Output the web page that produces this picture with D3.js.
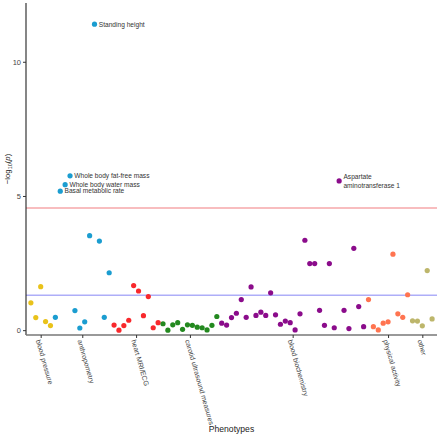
<!DOCTYPE html>
<html><head><meta charset="utf-8">
<script src="https://cdn.jsdelivr.net/npm/d3@7"></script>
<style>
body{margin:0;background:#fff}
svg{display:block;font-family:"Liberation Sans",Arial,Helvetica,sans-serif}
</style>
</head><body>
<svg id="chart" width="440" height="437"></svg>
<script>
// ---- data ----
const categories = ["blood pressure","anthropometry","heart MRI/ECG","carotid ultrasound measures","blood biochemistry","physical activity","other"];
const categoryCounts = [5, 12, 10, 12, 30, 9, 5];
const categoryColors = ["#E9C21A","#1B9DD0","#F8282C","#23891F","#8B0C8B","#FF7450","#BDB66B"];
const values = [
  1.02,0.47,1.62,0.32,0.17,
  0.48,5.18,5.42,5.75,0.73,0.08,0.31,3.52,11.40,3.32,0.48,2.14,
  0.19,0.00,0.17,0.37,1.66,1.46,0.54,1.25,0.09,0.28,
  0.24,0.00,0.20,0.28,0.03,0.20,0.18,0.11,0.09,0.01,0.18,0.51,
  0.26,0.19,0.47,0.63,1.14,0.48,1.61,0.55,0.67,0.55,1.39,0.57,0.22,0.34,0.28,0.01,0.61,3.35,2.48,2.48,0.74,0.18,2.48,0.09,5.56,0.74,0.06,3.05,0.88,0.13,
  1.14,0.13,0.01,0.26,0.31,2.83,0.61,0.48,1.32,
  0.35,0.34,0.16,2.22,0.42
];
const pointLabels = [
  {index: 13, lines: ["Standing height"]},
  {index: 8, lines: ["Whole body fat-free mass"]},
  {index: 7, lines: ["Whole body water mass"]},
  {index: 6, lines: ["Basal metabolic rate"]},
  {index: 63, lines: ["Aspartate", "aminotransferase 1"]}
];
const yTicks = [0, 5, 10];
const thresholds = [
  {value: 4.55, color: "rgba(240,120,125,0.65)"},
  {value: 1.30, color: "rgba(130,130,245,0.65)"}
];

// ---- build ----
const svg = d3.select("#chart");
const panel = {left: 26, right: 437, top: 3, bottom: 335};

const x = d3.scaleLinear().domain([-1, values.length]).range([panel.left, panel.right]);
const y = d3.scaleLinear().domain([-0.18, 12.19]).range([panel.bottom, panel.top]);

// category for each point
const pointCat = [];
categoryCounts.forEach((n, c) => { for (let k = 0; k < n; k++) pointCat.push(c); });
const points = values.map((v, i) => ({i, v, c: pointCat[i]}));

// category tick positions (middle index)
let start = 0;
const catTicks = categoryCounts.map((n, c) => { const mid = start + (n - 1) / 2; start += n; return {c, mid}; });

// threshold lines
svg.selectAll("line.thr").data(thresholds).join("line")
  .attr("x1", panel.left).attr("x2", panel.right)
  .attr("y1", d => y(d.value)).attr("y2", d => y(d.value))
  .attr("stroke", d => d.color).attr("stroke-width", 1.6);

// y axis
const yAxis = d3.axisLeft(y).tickValues(yTicks).tickSize(3).tickPadding(2);
const gy = svg.append("g").attr("transform", `translate(${panel.left},0)`).call(yAxis);
gy.select(".domain").attr("d", `M0,${panel.top}V${panel.bottom}`).attr("stroke", "#222").attr("stroke-width", 1.1);
gy.selectAll(".tick line").attr("stroke", "#333");
gy.selectAll(".tick text").attr("font-size", 7.5).attr("fill", "#444").attr("font-family", "Liberation Sans, Arial, sans-serif");

// x axis
const xAxis = d3.axisBottom(x).tickValues(catTicks.map(d => d.mid)).tickSize(3).tickFormat("");
const gx = svg.append("g").attr("transform", `translate(0,${panel.bottom})`).call(xAxis);
gx.select(".domain").attr("d", `M${panel.left},0H${panel.right}`).attr("stroke", "#777").attr("stroke-width", 1.6);
gx.selectAll(".tick line").attr("stroke", "#333");

// category labels rotated
svg.append("g").selectAll("text").data(catTicks).join("text")
  .attr("transform", d => `translate(${x(d.mid)},${panel.bottom + 4}) rotate(74)`)
  .attr("dy", "0.72em")
  .attr("font-size", 7)
  .attr("fill", "#444")
  .attr("text-anchor", "start")
  .text(d => categories[d.c]);

// points
svg.append("g").selectAll("circle").data(points).join("circle")
  .attr("cx", d => x(d.i)).attr("cy", d => y(d.v)).attr("r", 2.6)
  .attr("fill", d => categoryColors[d.c]);

// point labels
const lg = svg.append("g");
pointLabels.forEach(l => {
  const px = x(l.index) + 4.3, py = y(values[l.index]);
  const lh = 9;
  const t = lg.append("text").attr("font-size", 6.6).attr("fill", "#333");
  l.lines.forEach((s, k) => {
    t.append("tspan").attr("x", px)
      .attr("y", py + (k - (l.lines.length - 1) / 2) * lh)
      .attr("dy", "0.35em").text(s);
  });
});

// axis titles
svg.append("text").attr("x", (panel.left + panel.right) / 2 + 0).attr("y", 432)
  .attr("text-anchor", "middle").attr("font-size", 8.6).attr("fill", "#222").text("Phenotypes");

const yt = svg.append("text")
  .attr("transform", `translate(10,${(panel.top + panel.bottom) / 2}) rotate(-90)`)
  .attr("text-anchor", "middle").attr("font-size", 7.8).attr("fill", "#222");
yt.append("tspan").text("\u2212log");
yt.append("tspan").attr("font-size", 5.5).attr("dy", "2").text("10");
yt.append("tspan").attr("dy", "-2").text("(");
yt.append("tspan").attr("font-style", "italic").text("p");
yt.append("tspan").text(")");
</script>
</body></html>
